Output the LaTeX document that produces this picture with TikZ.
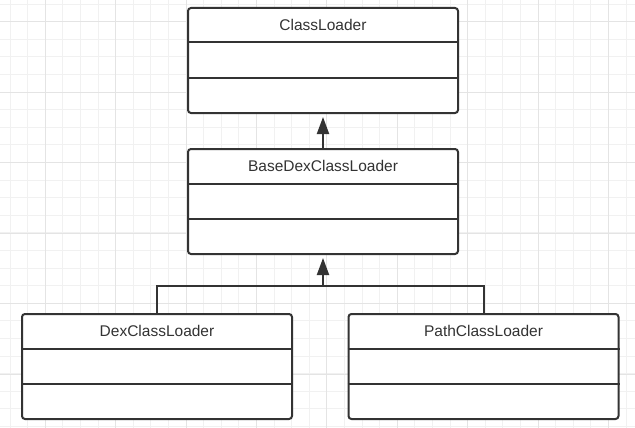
\documentclass[tikz,border=0pt]{standalone}
\usepackage{fontspec}
\setmainfont{Liberation Sans}
\usetikzlibrary{arrows.meta,calc}
\definecolor{ink}{HTML}{333333}
\definecolor{gridminor}{HTML}{F1F1F1}
\definecolor{gridmajor}{HTML}{E4E4E4}
\begin{document}
\begin{tikzpicture}[x=1pt,y=-1pt,
  minorline/.style={draw=gridminor,line width=1pt},
  majorline/.style={draw=gridmajor,line width=1pt},
  classbox/.style={draw=ink,line width=2pt,rounded corners=3pt,fill=white,minimum width=270pt,minimum height=105pt,inner sep=0pt},
  divider/.style={draw=ink,line width=2pt},
  title/.style={text=ink,font=\fontsize{15.5}{18}\selectfont,inner sep=0pt},
  link/.style={draw=ink,line width=2pt},
  inherit/.style={link,-{Triangle[width=12pt,length=17pt]}}]
\useasboundingbox[fill=white] (0,0) rectangle (635,428);
% grid
\foreach \k in {0,...,35} {
  \pgfmathsetmacro\xx{10.1+17.6*\k}
  \draw[minorline] (\xx,0) -- (\xx,428);
}
\foreach \k in {0,...,24} {
  \pgfmathsetmacro\yy{4.1+17.6*\k}
  \draw[minorline] (0,\yy) -- (635,\yy);
}
\foreach \k in {0,...,8} {
  \pgfmathsetmacro\xx{45.3+70.4*\k}
  \draw[majorline] (\xx,0) -- (\xx,428);
}
\foreach \k in {0,...,5} {
  \pgfmathsetmacro\yy{21.7+70.5*\k}
  \draw[majorline] (0,\yy) -- (635,\yy);
}
% boxes
\node[classbox] (cl) at (323,60.5) {};
\node[classbox] (bd) at (323,201.5) {};
\node[classbox] (dx) at (157,366.5) {};
\node[classbox] (pc) at (483.5,366.5) {};
\foreach \n/\t in {cl/ClassLoader,bd/BaseDexClassLoader,dx/DexClassLoader,pc/PathClassLoader} {
  \draw[divider] ($(\n.north west)+(0,35.5)$) -- ($(\n.north east)+(0,35.5)$);
  \draw[divider] ($(\n.north west)+(0,71)$) -- ($(\n.north east)+(0,71)$);
  \node[title] (\n-t) at ($(\n.north)+(0,18)$) {\t};
}
% connectors
\coordinate (tipa) at ($(cl.south)+(0,3)$);
\coordinate (tipb) at ($(bd.south)+(0,3)$);
\coordinate (joint) at ($(bd.south)+(0,31)$);
\draw[inherit] (bd.north) -- (tipa);
\draw[link] (dx.north) |- (joint) -| (pc.north);
\draw[inherit] (joint) -- (tipb);
\end{tikzpicture}
\end{document}
